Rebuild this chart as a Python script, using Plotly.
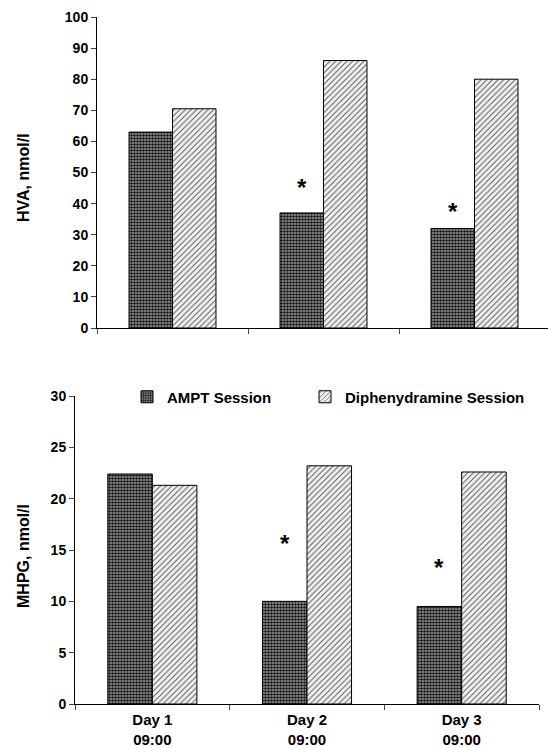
import plotly.graph_objects as go

# ---------------- data ----------------
days = ["Day 1<br>09:00", "Day 2<br>09:00", "Day 3<br>09:00"]
series_names = ["AMPT Session", "Diphenydramine Session"]
hva_ampt = [63, 37, 32]
hva_diph = [70.5, 86, 80]
mhpg_ampt = [22.4, 10.0, 9.5]
mhpg_diph = [21.3, 23.2, 22.6]
# significance markers (drawn above the AMPT bars)
hva_star_days = ["Day 2<br>09:00", "Day 3<br>09:00"]
hva_star_y = [45.2, 37.4]
mhpg_star_days = ["Day 2<br>09:00", "Day 3<br>09:00"]
mhpg_star_y = [15.6, 13.3]
hva_ticks = [0, 10, 20, 30, 40, 50, 60, 70, 80, 90, 100]
mhpg_ticks = [0, 5, 10, 15, 20, 25, 30]

# ---------------- layout helpers ----------------
W, H = 548, 748
FONT = "Liberation Sans, Arial, sans-serif"
BARGAP = 0.424


def fx(px):
    return px / W


def fy(py):
    return 1 - py / H


ampt_pattern = dict(shape=".", bgcolor="#a0a0a0", fgcolor="#141414", size=3, solidity=0.55)
diph_pattern = dict(shape="/", bgcolor="#f2f2f2", fgcolor="#5a5a5a", size=4, solidity=0.25)

fig = go.Figure()

# top chart (HVA)
fig.add_trace(go.Bar(x=days, y=hva_ampt, name=series_names[0], xaxis="x", yaxis="y",
                     marker=dict(color="#a0a0a0", pattern=ampt_pattern, line=dict(color="black", width=1)),
                     showlegend=False))
fig.add_trace(go.Bar(x=days, y=hva_diph, name=series_names[1], xaxis="x", yaxis="y",
                     marker=dict(color="#f2f2f2", pattern=diph_pattern, line=dict(color="black", width=1)),
                     showlegend=False))
# bottom chart (MHPG)
fig.add_trace(go.Bar(x=days, y=mhpg_ampt, name=series_names[0], xaxis="x2", yaxis="y2",
                     legend="legend",
                     marker=dict(color="#a0a0a0", pattern=ampt_pattern, line=dict(color="black", width=1))))
fig.add_trace(go.Bar(x=days, y=mhpg_diph, name=series_names[1], xaxis="x2", yaxis="y2",
                     legend="legend2",
                     marker=dict(color="#f2f2f2", pattern=diph_pattern, line=dict(color="black", width=1))))

tickfont = dict(family=FONT, size=14, color="black", weight="bold")
legfont = dict(family=FONT, size=15, color="black", weight="bold")

top_cat_px = 151
bot_cat_px = (539 - 75) / 3

fig.update_layout(
    width=W, height=H,
    margin=dict(l=0, r=0, t=0, b=0),
    paper_bgcolor="white", plot_bgcolor="white",
    template="none",
    barmode="group", bargap=BARGAP, bargroupgap=0,
    font=dict(family=FONT, color="black"),
    xaxis=dict(domain=[fx(97), 1.0], type="category", range=[-0.5, -0.5 + (W - 97) / top_cat_px],
               showticklabels=False, ticks="outside", ticklen=5, tickson="boundaries",
               showline=True, linecolor="black", linewidth=1, showgrid=False, zeroline=False,
               anchor="y", fixedrange=True),
    yaxis=dict(domain=[fy(328), fy(17)], range=[0, 100], tickvals=hva_ticks,
               ticks="outside", ticklen=5, tickfont=tickfont, showline=True, linecolor="black",
               linewidth=1, showgrid=False, zeroline=False, anchor="x"),
    xaxis2=dict(domain=[fx(75), fx(539)], type="category", range=[-0.5, 2.5],
                ticks="outside", ticklen=5, tickson="boundaries",
                tickfont=dict(family=FONT, size=15, color="black", weight="bold"),
                ticklabelstandoff=2,
                showline=True, linecolor="black", linewidth=1, showgrid=False, zeroline=False,
                anchor="y2"),
    yaxis2=dict(domain=[fy(704), fy(396)], range=[0, 30], tickvals=mhpg_ticks,
                ticks="outside", ticklen=5, tickfont=tickfont, showline=True, linecolor="black",
                linewidth=1, showgrid=False, zeroline=False, anchor="x2"),
    legend=dict(orientation="h", x=fx(127), xanchor="left", y=fy(397), yanchor="middle",
                font=legfont, bgcolor="rgba(0,0,0,0)"),
    legend2=dict(orientation="h", x=fx(305), xanchor="left", y=fy(397), yanchor="middle",
                 font=legfont, bgcolor="rgba(0,0,0,0)"),
)

annotations = [
    dict(text="HVA, nmol/l", textangle=-90, x=fx(23), y=fy(178), xref="paper", yref="paper",
         xanchor="center", yanchor="middle", showarrow=False,
         font=dict(family=FONT, size=16, color="black", weight="bold")),
    dict(text="MHPG, nmol/l", textangle=-90, x=fx(23), y=fy(556), xref="paper", yref="paper",
         xanchor="center", yanchor="middle", showarrow=False,
         font=dict(family=FONT, size=16, color="black", weight="bold")),
]
top_shift = -(1 - BARGAP) * top_cat_px / 4
bot_shift = -(1 - BARGAP) * bot_cat_px / 4
for d, v in zip(hva_star_days, hva_star_y):
    annotations.append(dict(text="*", x=d, y=v, xref="x", yref="y", xshift=top_shift, showarrow=False,
                            xanchor="center", yanchor="middle",
                            font=dict(family=FONT, size=24, color="black", weight="bold")))
for d, v in zip(mhpg_star_days, mhpg_star_y):
    annotations.append(dict(text="*", x=d, y=v, xref="x2", yref="y2", xshift=bot_shift, showarrow=False,
                            xanchor="center", yanchor="middle",
                            font=dict(family=FONT, size=24, color="black", weight="bold")))
fig.update_layout(annotations=annotations)

fig.write_html("out.html",
               config={"displayModeBar": False},
               post_script="document.body.style.margin='0px';document.body.style.padding='0px';")
